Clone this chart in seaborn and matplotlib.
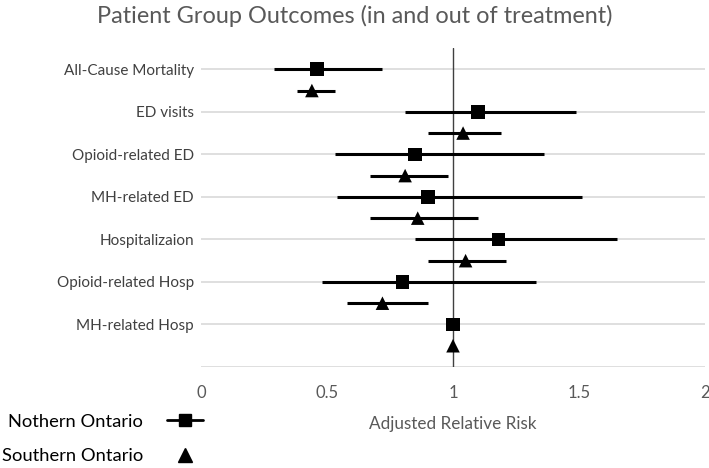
import numpy as np
import pandas as pd
import seaborn as sns
import matplotlib.pyplot as plt
from matplotlib.lines import Line2D

# Outcomes, top to bottom
outcomes = ["All-Cause Mortality", "ED visits", "Opioid-related ED", "MH-related ED",
            "Hospitalizaion", "Opioid-related Hosp", "MH-related Hosp"]

# Adjusted relative risk and CI
north_rr = [0.46, 1.10, 0.85, 0.90, 1.18, 0.80, 1.00]
north_lo = [0.29, 0.81, 0.53, 0.54, 0.85, 0.48, np.nan]
north_hi = [0.72, 1.49, 1.36, 1.51, 1.65, 1.33, np.nan]

south_rr = [0.44, 1.04, 0.81, 0.86, 1.05, 0.72, 1.00]
south_lo = [0.38, 0.90, 0.67, 0.67, 0.90, 0.58, np.nan]
south_hi = [0.53, 1.19, 0.98, 1.10, 1.21, 0.90, np.nan]

groups = ["Nothern Ontario", "Southern Ontario"]

rows = []
for i, name in enumerate(outcomes):
    rows.append(dict(outcome=name, group=groups[0], pos=i, rr=north_rr[i], lo=north_lo[i], hi=north_hi[i]))
    rows.append(dict(outcome=name, group=groups[1], pos=i + 0.5, rr=south_rr[i], lo=south_lo[i], hi=south_hi[i]))
df = pd.DataFrame(rows)

sns.set_theme(style="white")
plt.rcParams['font.family'] = ['Lato', 'DejaVu Sans']

fig = plt.figure(figsize=(7.09, 4.68), dpi=100)
ax = fig.add_axes([201 / 709, 1 - 367 / 468, 504 / 709, 319 / 468])

# light horizontal gridlines (bottom one acts as the axis)
for g in range(len(outcomes) + 1):
    ax.axhline(g, color="#d9d9d9", lw=1.2, zorder=0)

# reference line at RR = 1
ax.axvline(1, color="#404040", lw=1, zorder=1)

# confidence intervals
ci = df.dropna(subset=["lo", "hi"])
ax.hlines(ci["pos"], ci["lo"], ci["hi"], color="black", lw=2.2, zorder=2)

sns.scatterplot(data=df, x="rr", y="pos", style="group",
                markers={groups[0]: "s", groups[1]: "^"},
                color="black", s=95, edgecolor="black", linewidth=0,
                legend=False, ax=ax, zorder=3)

ax.set_xlim(0, 2)
ax.set_ylim(len(outcomes), -0.5)
ax.set_xticks([0, 0.5, 1, 1.5, 2])
ax.set_xticklabels(["0", "0.5", "1", "1.5", "2"], color="#595959", fontsize=12)
ax.set_yticks(range(len(outcomes)))
ax.set_yticklabels(outcomes, color="#404040", fontsize=11)
ax.tick_params(axis="both", length=0)
ax.tick_params(axis="x", pad=13)
ax.tick_params(axis="y", pad=5)
ax.set_xlabel("Adjusted Relative Risk", color="#595959", fontsize=12.3, labelpad=11)
ax.set_ylabel("")
for s in ax.spines.values():
    s.set_visible(False)

fig.text(0.5, 1 - 16 / 468, "Patient Group Outcomes (in and out of treatment)",
         ha="center", va="center", color="#595959", fontsize=16.9)

handles = [Line2D([], [], color="black", lw=2, marker="s", markersize=9),
           Line2D([], [], color="black", lw=0, marker="^", markersize=10)]
fig.legend(handles, groups, loc="lower left", bbox_to_anchor=(-0.021, -0.027),
           markerfirst=False, frameon=False, fontsize=13.2, handlelength=2.0,
           labelspacing=1.0, handletextpad=1.3, labelcolor="black")

fig.savefig("out.png", dpi=100)
